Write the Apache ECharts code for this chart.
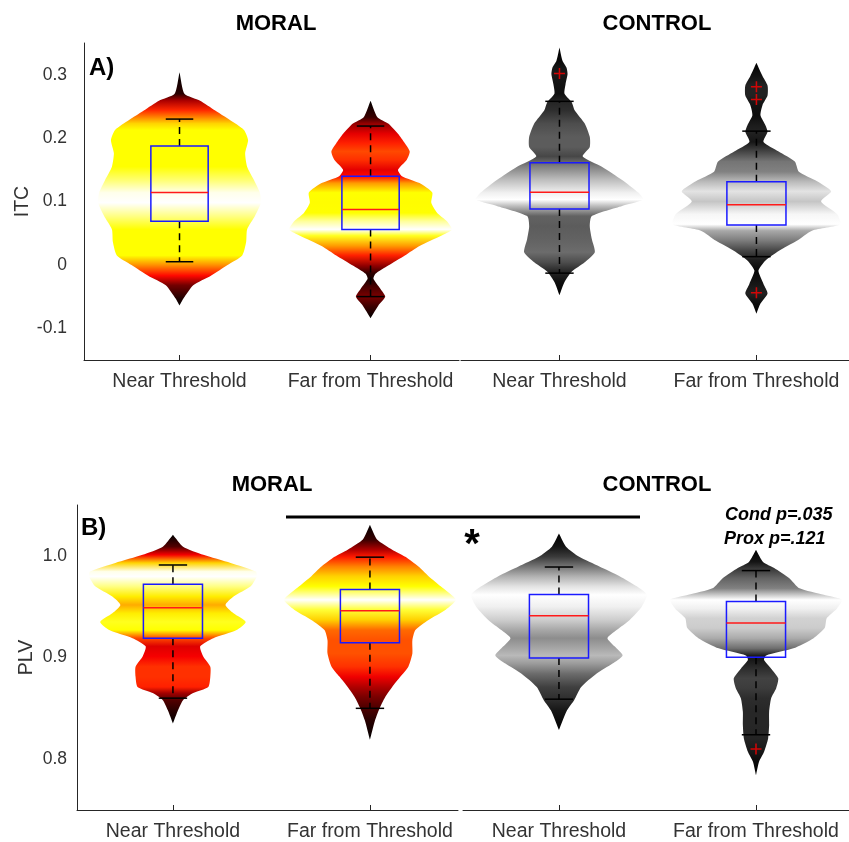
<!DOCTYPE html>
<html>
<head>
<meta charset="utf-8">
<script src="https://cdn.jsdelivr.net/npm/echarts@6/dist/echarts.min.js"></script>
<style>
html, body { margin: 0; padding: 0; background: #fff; }
#main { width: 849px; height: 842px; }
</style>
</head>
<body>
<div id="main"></div>
<script>
// categories on each x axis
const groups = ['Near Threshold', 'Far from Threshold'];

// A) ITC violins: value (y) and density (violin half width, arbitrary units)
const itcMoralNearY = [0.304, 0.27, 0.259, 0.244, 0.223, 0.2125, 0.197, 0.176, 0.155, 0.134, 0.114, 0.098, 0.077, 0.056, 0.036, 0.015, 0, -0.017, -0.032, -0.053, -0.064];
const itcMoralNearD = [0, 5, 21, 36, 57, 66, 70, 67, 69, 76, 82, 83, 77, 69, 68, 64, 49, 32, 14, 4, 0];
const itcMoralFarY = [0.259, 0.233, 0.223, 0.207, 0.192, 0.179, 0.166, 0.15, 0.14, 0.129, 0.114, 0.098, 0.082, 0.069, 0.056, 0.046, 0.03, 0.015, -0.001, -0.014, -0.022, -0.0375, -0.05, -0.064, -0.084];
const itcMoralFarD = [0, 7, 18, 28, 35, 40, 37, 28, 32, 50, 63, 62, 68, 78, 83, 72, 50, 35, 18, 5, 3, 10, 15, 8, 0];
const itcControlNearY = [0.343, 0.322, 0.311, 0.301, 0.285, 0.27, 0.257, 0.244, 0.223, 0.202, 0.186, 0.171, 0.155, 0.134, 0.114, 0.103, 0.093, 0.077, 0.061, 0.041, 0.02, 0.004, -0.011, -0.027, -0.048];
const itcControlNearD = [0, 3, 7, 8, 6, 5, 12, 15, 25, 30, 30, 23, 42, 62, 78, 83, 62, 32, 30, 32, 35, 25, 12, 5, 0];
const itcControlFarY = [0.319, 0.298, 0.283, 0.267, 0.252, 0.236, 0.22, 0.21, 0.194, 0.179, 0.163, 0.147, 0.132, 0.116, 0.1, 0.08, 0.064, 0.054, 0.038, 0.022, 0.007, -0.009, -0.03, -0.045, -0.061, -0.077];
const itcControlFarD = [0, 6, 11, 11, 6, 4, 9, 11, 7, 22, 38, 42, 60, 74, 64, 80, 83, 55, 40, 22, 9, 2, 7, 11, 4, 0];

// B) PLV violins
const plvMoralNearY = [1.0207, 1.009, 1.001, 0.993, 0.9845, 0.9796, 0.97, 0.96, 0.9517, 0.9435, 0.935, 0.927, 0.919, 0.911, 0.901, 0.891, 0.881, 0.871, 0.865, 0.858, 0.848, 0.835];
const plvMoralNearD = [0, 10, 30, 57, 82, 83, 77, 60, 52, 60, 72, 63, 40, 27, 30, 37, 37, 35, 20, 10, 5, 0];
const plvMoralFarY = [1.0305, 1.016, 1.006, 0.999, 0.9895, 0.98, 0.97, 0.9567, 0.947, 0.937, 0.927, 0.917, 0.904, 0.891, 0.881, 0.871, 0.861, 0.851, 0.838, 0.819];
const plvMoralFarD = [0, 7, 22, 35, 48, 58, 70, 85, 75, 58, 45, 42, 42, 38, 30, 22, 15, 10, 5, 0];
const plvControlNearY = [1.022, 1.009, 0.999, 0.9895, 0.98, 0.97, 0.9616, 0.95, 0.937, 0.927, 0.919, 0.911, 0.902, 0.894, 0.884, 0.871, 0.858, 0.848, 0.8286];
const plvControlNearD = [0, 7, 20, 40, 60, 77, 87, 82, 70, 57, 48, 55, 63, 53, 37, 22, 15, 8, 0];
const plvControlFarY = [1.006, 0.994, 0.988, 0.978, 0.968, 0.9616, 0.9567, 0.948, 0.9386, 0.929, 0.919, 0.909, 0.902, 0.8975, 0.889, 0.8795, 0.8697, 0.86, 0.8466, 0.8335, 0.8204, 0.8072, 0.7974, 0.7842];
const plvControlFarD = [0, 7, 18, 33, 43, 67, 85, 80, 70, 68, 57, 37, 10, 8, 15, 22, 20, 15, 13, 13, 12, 8, 3, 0];

// box plots: [x, lower whisker, q1, median, q3, upper whisker]
const itcBoxMoral = [[1, 0.005, 0.069, 0.114, 0.1875, 0.23], [2, -0.05, 0.056, 0.0875, 0.14, 0.219]];
const itcBoxControl = [[1, -0.013, 0.088, 0.1146, 0.161, 0.258], [2, 0.013, 0.063, 0.095, 0.131, 0.211]];
const plvBoxMoral = [[1, 0.86, 0.919, 0.949, 0.972, 0.991], [2, 0.85, 0.9146, 0.946, 0.967, 0.9987]];
const plvBoxControl = [[1, 0.859, 0.8995, 0.941, 0.962, 0.989], [2, 0.824, 0.9002, 0.934, 0.955, 0.9855]];

// outliers
const itcOutControl = [[1, 0.302], [2, 0.281], [2, 0.261], [2, -0.044]];
const plvOutControl = [[2, 0.81]];

// axis ticks
const itcTicks = [-0.1, 0, 0.1, 0.2, 0.3];
const plvTicks = [0.8, 0.9, 1.0];

const widthScale = 1 / 195; // density units -> x axis units
const axisColor = '#262626';
const font = '"Liberation Sans", Arial, Helvetica, sans-serif';

function clamp(v) { return Math.max(0, Math.min(1, v)); }
function toRgb(r, g, b) {
    return 'rgb(' + Math.round(r * 255) + ',' + Math.round(g * 255) + ',' + Math.round(b * 255) + ')';
}
// hot-like colormap
function hot(t) {
    return toRgb(clamp(t / 0.375), clamp((t - 0.375) / 0.375), clamp((t - 0.85) / 0.15));
}
function gray(t) {
    return toRgb(t, t, t);
}

function violin(axis, x, ys, ds, cmap) {
    return {
        type: 'custom',
        xAxisIndex: axis,
        yAxisIndex: axis,
        silent: true,
        z: 1,
        data: [[x, ys[0]]],
        renderItem: function (params, api) {
            const max = Math.max.apply(null, ds);
            const right = [], left = [];
            for (let i = 0; i < ys.length; i++) {
                right.push(api.coord([x + ds[i] * widthScale, ys[i]]));
                left.push(api.coord([x - ds[i] * widthScale, ys[i]]));
            }
            const top = ys[0], bot = ys[ys.length - 1];
            const stops = ys.map(function (y, i) {
                return { offset: (top - y) / (top - bot), color: cmap(ds[i] / max) };
            });
            return {
                type: 'polygon',
                shape: { points: right.concat(left.reverse()), smooth: 0.2 },
                style: { fill: new echarts.graphic.LinearGradient(0, 0, 0, 1, stops), stroke: null }
            };
        }
    };
}

function boxes(axis, data) {
    return {
        type: 'custom',
        xAxisIndex: axis,
        yAxisIndex: axis,
        silent: true,
        z: 2,
        encode: { x: 0, y: [1, 2, 3, 4, 5] },
        data: data,
        renderItem: function (params, api) {
            const x = api.value(0);
            const lo = api.value(1), q1 = api.value(2), med = api.value(3), q3 = api.value(4), hi = api.value(5);
            const bw = 0.15, cw = 0.072;
            const p = function (a, b) { return api.coord([a, b]); };
            const line = function (a, b, style) {
                return { type: 'line', shape: { x1: a[0], y1: a[1], x2: b[0], y2: b[1] }, style: style };
            };
            const dash = { stroke: '#000', lineWidth: 1.5, lineDash: [7, 5] };
            const solid = { stroke: '#000', lineWidth: 1.5 };
            const tl = p(x - bw, q3), br = p(x + bw, q1);
            return {
                type: 'group',
                children: [
                    line(p(x, q3), p(x, hi), dash),
                    line(p(x, q1), p(x, lo), dash),
                    line(p(x - cw, hi), p(x + cw, hi), solid),
                    line(p(x - cw, lo), p(x + cw, lo), solid),
                    { type: 'rect', shape: { x: tl[0], y: tl[1], width: br[0] - tl[0], height: br[1] - tl[1] },
                      style: { fill: null, stroke: '#1a1aff', lineWidth: 1.5 } },
                    line(p(x - bw, med), p(x + bw, med), { stroke: '#ff1a1a', lineWidth: 1.5 })
                ]
            };
        }
    };
}

function outliers(axis, data) {
    return {
        type: 'scatter',
        xAxisIndex: axis,
        yAxisIndex: axis,
        silent: true,
        z: 3,
        symbol: 'path://M4.3,0h1.4v4.3h4.3v1.4h-4.3v4.3h-1.4v-4.3h-4.3v-1.4h4.3z',
        symbolSize: 11,
        itemStyle: { color: '#ff0000' },
        data: data
    };
}

function xAx(grid, min, max) {
    return {
        type: 'value', gridIndex: grid, min: min, max: max,
        axisLine: { show: true, onZero: false, lineStyle: { color: axisColor, width: 1 } },
        axisTick: { show: true, inside: true, length: 5, customValues: [1, 2], lineStyle: { color: axisColor } },
        axisLabel: { show: true, customValues: [1, 2], margin: 12, color: '#333', fontSize: 19.5, fontFamily: font,
            formatter: function (v) { return groups[Math.round(v) - 1]; } },
        splitLine: { show: false }
    };
}

function yAx(grid, min, max, ticks, show, name, gap, margin) {
    return {
        type: 'value', gridIndex: grid, min: min, max: max, show: show,
        name: name, nameLocation: 'middle', nameGap: gap, nameRotate: 90,
        nameTextStyle: { color: '#333', fontSize: 19.5, fontFamily: font },
        axisLine: { show: true, onZero: false, lineStyle: { color: axisColor, width: 1 } },
        axisTick: { show: false },
        axisLabel: { show: true, customValues: ticks, margin: margin, color: '#333', fontSize: 17.5, fontFamily: font,
            formatter: function (v) {
                if (max > 0.5) return v.toFixed(1);
                return Math.abs(v) < 1e-9 ? '0' : String(Math.round(v * 10) / 10);
            } },
        splitLine: { show: false }
    };
}

function label(text, x, y, size, extra) {
    return {
        type: 'text', x: x, y: y, z: 10, silent: true,
        style: Object.assign({ text: text, fill: '#000', font: 'bold ' + size + 'px ' + font,
            align: 'center', verticalAlign: 'middle' }, extra || {})
    };
}

const chart = echarts.init(document.getElementById('main'));

const option = {
    animation: false,
    backgroundColor: '#fff',
    grid: [
        { left: 84, top: 43, width: 375, height: 317 },
        { left: 461, top: 43, width: 388, height: 317 },
        { left: 77, top: 505, width: 381, height: 305 },
        { left: 463, top: 505, width: 386, height: 305 }
    ],
    xAxis: [
        xAx(0, 0.5, 2.463),
        xAx(1, 0.5, 2.47),
        xAx(2, 0.513, 2.447),
        xAx(3, 0.513, 2.472)
    ],
    yAxis: [
        yAx(0, -0.15, 0.35, itcTicks, true, 'ITC', 35, 17),
        yAx(1, -0.15, 0.35, itcTicks, false, '', 0, 0),
        yAx(2, 0.75, 1.05, plvTicks, true, 'PLV', 40, 10),
        yAx(3, 0.75, 1.05, plvTicks, false, '', 0, 0)
    ],
    series: [
        violin(0, 1, itcMoralNearY, itcMoralNearD, hot),
        violin(0, 2, itcMoralFarY, itcMoralFarD, hot),
        violin(1, 1, itcControlNearY, itcControlNearD, gray),
        violin(1, 2, itcControlFarY, itcControlFarD, gray),
        violin(2, 1, plvMoralNearY, plvMoralNearD, hot),
        violin(2, 2, plvMoralFarY, plvMoralFarD, hot),
        violin(3, 1, plvControlNearY, plvControlNearD, gray),
        violin(3, 2, plvControlFarY, plvControlFarD, gray),
        boxes(0, itcBoxMoral),
        boxes(1, itcBoxControl),
        boxes(2, plvBoxMoral),
        boxes(3, plvBoxControl),
        outliers(1, itcOutControl),
        outliers(3, plvOutControl)
    ],
    graphic: [
        label('MORAL', 276, 24, 22),
        label('CONTROL', 657, 24, 22),
        label('MORAL', 272, 485, 22),
        label('CONTROL', 657, 485, 22),
        label('A)', 89, 68, 24, { align: 'left' }),
        label('B)', 81, 528, 24, { align: 'left' }),
        { type: 'line', z: 10, silent: true, shape: { x1: 286, y1: 517, x2: 640, y2: 517 }, style: { stroke: '#000', lineWidth: 3 } },
        label('*', 472, 546, 40),
        label('Cond p=.035', 725, 515, 18, { align: 'left', font: 'italic bold 18px ' + font }),
        label('Prox p=.121', 724, 539, 18, { align: 'left', font: 'italic bold 18px ' + font })
    ]
};

chart.setOption(option);
</script>
</body>
</html>
